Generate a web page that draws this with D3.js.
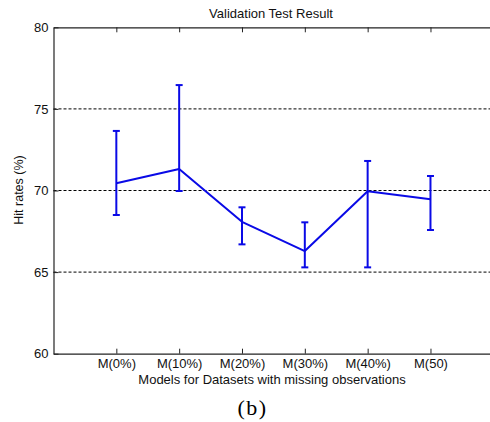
<!DOCTYPE html>
<html>
<head>
<meta charset="utf-8">
<script src="https://cdn.jsdelivr.net/npm/d3@7"></script>
<style>
  html, body { margin: 0; padding: 0; background: #fff; }
  svg { display: block; }
  text { font-family: "Liberation Sans", Arial, sans-serif; fill: #111; }
  text.caption { font-family: "Liberation Serif", "Times New Roman", serif; fill: #000; }
</style>
</head>
<body>
<svg id="chart" width="490" height="422"></svg>
<script>
// ---- data ----
const categories = ["M(0%)", "M(10%)", "M(20%)", "M(30%)", "M(40%)", "M(50)"];
const means  = [70.44, 71.32, 68.08, 66.29, 69.95, 69.46];
const uppers = [73.65, 76.46, 68.97, 68.05, 71.81, 70.89];
const lowers = [68.50, 69.97, 66.70, 65.29, 65.29, 67.58];
const yTicks = [60, 65, 70, 75, 80];
const gridValues = [65, 70, 75];
const titleText = "Validation Test Result";
const xTitle = "Models for Datasets with missing observations";
const yTitle = "Hit rates (%)";
const caption = "(b)";

// ---- layout ----
const W = 490, H = 422;
const mLeft = 53.5, mTop = 27.3, mBottom = 353.7, mRight = 493.3;
const svg = d3.select("#chart");
svg.append("rect").attr("width", W).attr("height", H).attr("fill", "#fff");

const x = d3.scaleLinear().domain([0, categories.length + 1]).range([mLeft, mRight]);
const y = d3.scaleLinear().domain([60, 80]).range([mBottom, mTop]);
const idx = categories.map((c, i) => i + 1);

// grid
svg.append("g").selectAll("line").data(gridValues).join("line")
  .attr("x1", mLeft).attr("x2", mRight)
  .attr("y1", d => y(d)).attr("y2", d => y(d))
  .attr("stroke", "#000").attr("stroke-width", 1)
  .attr("stroke-dasharray", "3,2");

// axes
const axisColor = "#222";
const gx = svg.append("g").attr("transform", `translate(0,${mBottom})`)
  .call(d3.axisBottom(x).tickValues(idx).tickFormat((d, i) => categories[i])
        .tickSizeInner(-5).tickSizeOuter(0).tickPadding(5));
const gxt = svg.append("g").attr("transform", `translate(0,${mTop})`)
  .call(d3.axisTop(x).tickValues(idx).tickFormat("")
        .tickSizeInner(-5).tickSizeOuter(0));
const gy = svg.append("g").attr("transform", `translate(${mLeft},0)`)
  .call(d3.axisLeft(y).tickValues(yTicks).tickFormat(d3.format("d"))
        .tickSizeInner(-5).tickSizeOuter(0).tickPadding(5));
[gx, gxt, gy].forEach(g => {
  g.select(".domain").attr("stroke", axisColor).attr("stroke-width", 1.2);
  g.selectAll(".tick line").attr("stroke", axisColor);
  g.selectAll("text").attr("font-size", 13).attr("fill", "#111");
});

// error bars
const blue = "#0a0ae6";
const eb = svg.append("g");
eb.selectAll("line.v").data(idx).join("line").attr("class", "v")
  .attr("x1", d => x(d)).attr("x2", d => x(d))
  .attr("y1", (d, i) => y(uppers[i])).attr("y2", (d, i) => y(lowers[i]))
  .attr("stroke", blue).attr("stroke-width", 2);
eb.selectAll("line.cu").data(idx).join("line").attr("class", "cu")
  .attr("x1", d => x(d) - 3.5).attr("x2", d => x(d) + 3.5)
  .attr("y1", (d, i) => y(uppers[i])).attr("y2", (d, i) => y(uppers[i]))
  .attr("stroke", blue).attr("stroke-width", 2);
eb.selectAll("line.cl").data(idx).join("line").attr("class", "cl")
  .attr("x1", d => x(d) - 3.5).attr("x2", d => x(d) + 3.5)
  .attr("y1", (d, i) => y(lowers[i])).attr("y2", (d, i) => y(lowers[i]))
  .attr("stroke", blue).attr("stroke-width", 2);

// mean line
const line = d3.line().x((d, i) => x(idx[i])).y(d => y(d));
svg.append("path").datum(means).attr("d", line)
  .attr("fill", "none").attr("stroke", blue).attr("stroke-width", 2)
  .attr("stroke-linejoin", "round");

// titles
svg.append("text").attr("x", 271).attr("y", 18).attr("text-anchor", "middle")
  .attr("font-size", 13).text(titleText);
svg.append("text").attr("x", 272).attr("y", 384).attr("text-anchor", "middle")
  .attr("font-size", 13).text(xTitle);
svg.append("text").attr("transform", `translate(23,${190}) rotate(-90)`)
  .attr("text-anchor", "middle").attr("font-size", 12.5).text(yTitle);
svg.append("text").attr("class", "caption").attr("x", 252.5).attr("y", 415)
  .attr("text-anchor", "middle")
  .attr("font-size", 22).attr("letter-spacing", 1.5).text(caption);
</script>
</body>
</html>
